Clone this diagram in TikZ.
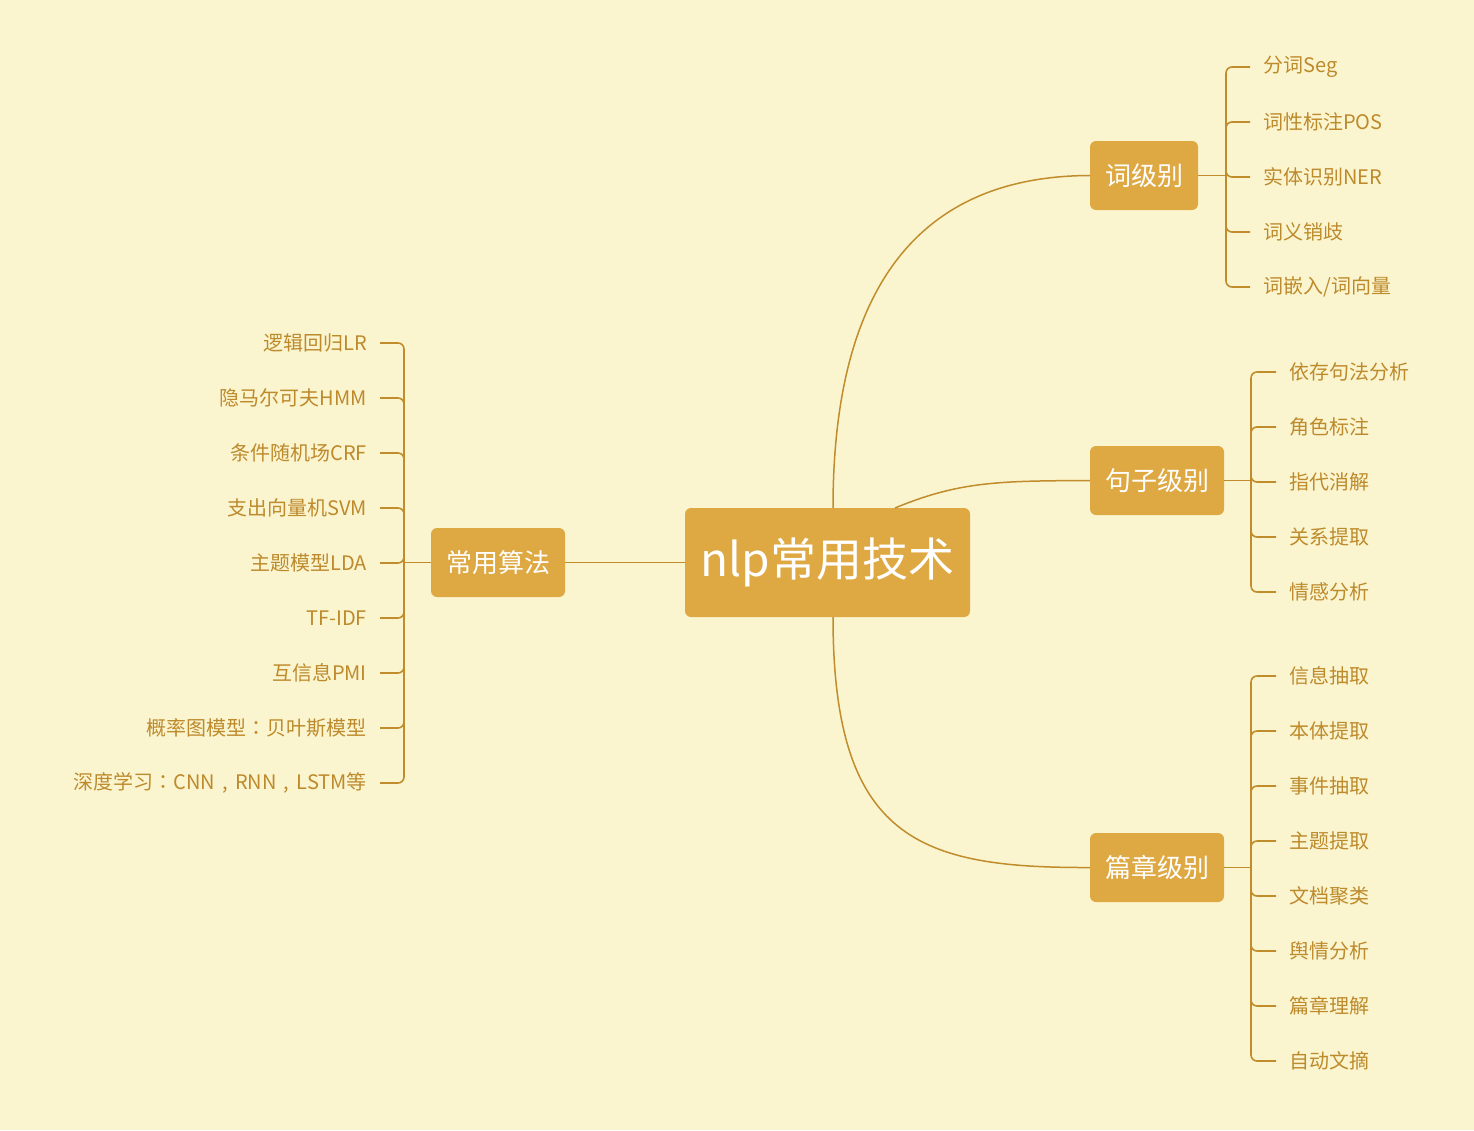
\documentclass[tikz,border=0pt]{standalone}
\usepackage{fontspec}
\setmainfont{Noto Sans CJK SC}
\newfontfamily\tcpunct{Noto Sans CJK TC}
\newcommand{\fwcolon}{{\tcpunct ：}}
\newcommand{\fwcomma}{\makebox[1em][c]{,}}
\definecolor{bg}{HTML}{FBF5CF}
\definecolor{nodefill}{HTML}{DEA943}
\definecolor{linec}{HTML}{C08C2C}
\definecolor{leaftext}{HTML}{BD8A2C}
\begin{document}
\begin{tikzpicture}[x=1pt,y=-1pt,
  box/.style={fill=nodefill, rounded corners=6pt, text=white, inner sep=0pt, minimum height=69pt},
  leafR/.style={anchor=west, text=leaftext, font=\fontsize{20pt}{24pt}\selectfont, inner xsep=13pt, inner ysep=0pt},
  leafL/.style={anchor=east, text=leaftext, font=\fontsize{20pt}{24pt}\selectfont, inner xsep=13pt, inner ysep=0pt},
  conn/.style={draw=linec, line width=1.5pt},
  trunk/.style={draw=linec, line width=1.6pt},
  stub/.style={draw=linec, line width=1.6pt, rounded corners=6pt}]
\fill[bg] (0,0) rectangle (1474,1130);
\useasboundingbox (0,0) rectangle (1474,1130);

% main nodes
\node[box, minimum width=285pt, minimum height=109pt, font=\fontsize{46pt}{50pt}\selectfont] (root) at (827.5,562.5) {nlp常用技术};
\node[box, minimum width=108pt, font=\fontsize{26pt}{30pt}\selectfont] (w) at (1144,175.5) {词级别};
\node[box, minimum width=134pt, font=\fontsize{26pt}{30pt}\selectfont] (s) at (1157,480.5) {句子级别};
\node[box, minimum width=134pt, font=\fontsize{26pt}{30pt}\selectfont] (d) at (1157,867.5) {篇章级别};
\node[box, minimum width=134pt, font=\fontsize{26pt}{30pt}\selectfont] (a) at (498,562.5) {常用算法};

% root connectors
\draw[conn] (833,508) .. controls (833,286) and (920,176) .. (w.west);
\draw[conn] (895,508) .. controls (960,481) and (1000,481) .. (s.west);
\draw[conn] (833,617) .. controls (833,840) and (920,868) .. (d.west);
\draw[conn] (root.west) -- (a.east);

% word level
\coordinate (wj) at (1226,175.5);
\draw[trunk] (w.east) -- (wj);
\foreach \t [count=\i] in {分词Seg,词性标注POS,实体识别NER,词义销歧,词嵌入/词向量}{
  \node[leafR] (w\i) at (1250,{67+55*(\i-1)}) {\t};
}
\foreach \i in {1,...,5}{ \draw[stub] (wj) |- (w\i.west); }

% sentence level
\coordinate (sj) at (1251,480.5);
\draw[trunk] (s.east) -- (sj);
\foreach \t [count=\i] in {依存句法分析,角色标注,指代消解,关系提取,情感分析}{
  \node[leafR] (s\i) at (1276,{372+55*(\i-1)}) {\t};
}
\foreach \i in {1,...,5}{ \draw[stub] (sj) |- (s\i.west); }

% document level
\coordinate (dj) at (1251,867.5);
\draw[trunk] (d.east) -- (dj);
\foreach \t [count=\i] in {信息抽取,本体提取,事件抽取,主题提取,文档聚类,舆情分析,篇章理解,自动文摘}{
  \node[leafR] (d\i) at (1276,{676+55*(\i-1)}) {\t};
}
\foreach \i in {1,...,8}{ \draw[stub] (dj) |- (d\i.west); }

% algorithms
\coordinate (aj) at (404,562.5);
\draw[trunk] (a.west) -- (aj);
\foreach \t [count=\i] in {逻辑回归LR,隐马尔可夫HMM,条件随机场CRF,支出向量机SVM,主题模型LDA,TF-IDF,互信息PMI,概率图模型\fwcolon 贝叶斯模型,深度学习\fwcolon CNN\fwcomma RNN\fwcomma LSTM等}{
  \node[leafL] (a\i) at (380,{343+55*(\i-1)}) {\t};
}
\foreach \i in {1,...,9}{ \draw[stub] (aj) |- (a\i.east); }
\end{tikzpicture}
\end{document}
